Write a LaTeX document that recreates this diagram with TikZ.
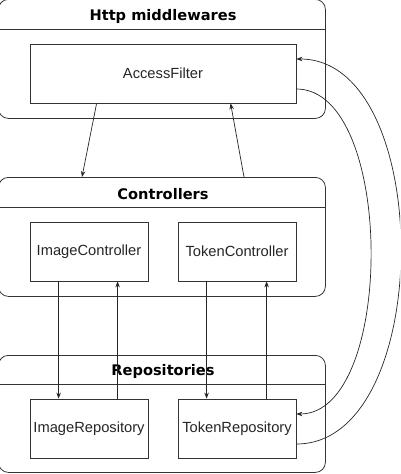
\documentclass[tikz,border=0pt]{standalone}
\usepackage{fontspec}
\setmainfont{Liberation Sans}
\newfontfamily\titlefont{DejaVu Sans}
\usetikzlibrary{arrows.meta,calc}
\begin{document}
\begin{tikzpicture}[x=1pt,y=-1pt,
  lane/.style={draw=black!80, line width=0.8pt, rounded corners=10pt, minimum width=327pt, inner sep=0pt, anchor=north west},
  lanetitle/.style={font=\titlefont\bfseries\fontsize{14.6}{16}\selectfont, text=black, inner sep=0pt},
  sep/.style={draw=black!80, line width=0.8pt},
  box/.style={draw=black!80, line width=0.8pt, fill=white, inner sep=0pt, font=\fontsize{14.7}{17}\selectfont, text=black!85},
  arr/.style={draw=black!85, line width=0.7pt, -{Stealth[length=6pt,width=4.5pt]}}
]
\useasboundingbox (0,0) rectangle (400,474);
\clip (0,0) rectangle (400,474);
% containers
\node[lane, minimum height=119pt] (mw) at (-2,-1) {};
\node[lane, minimum height=119pt] (ctl) at (-2,177) {};
\node[lane, minimum height=117pt] (rep) at (-2,355) {};
\coordinate (mwsep) at (0,29);
\coordinate (ctlsep) at (0,207);
\coordinate (repsep) at (0,384);
\draw[sep] (mw.west |- mwsep) -- (mw.east |- mwsep);
\draw[sep] (ctl.west |- ctlsep) -- (ctl.east |- ctlsep);
\draw[sep] (rep.west |- repsep) -- (rep.east |- repsep);
\node[lanetitle] (mwt) at (163,16) {Http middlewares};
\node[lanetitle] (ctlt) at (163,194) {Controllers};
\node[lanetitle] (rept) at (163,371) {Repositories};
% boxes
\node[box, minimum width=266pt, minimum height=59pt] (af) at (163,73.5) {AccessFilter};
\node[box, minimum width=118pt, minimum height=59pt] (ic) at (89,251.5) {ImageController};
\node[box, minimum width=118pt, minimum height=59pt] (tc) at (237,251.5) {TokenController};
\node[box, minimum width=118pt, minimum height=59pt] (ir) at (89,428.5) {ImageRepository};
\node[box, minimum width=118pt, minimum height=59pt] (tr) at (237,428.5) {TokenRepository};
% vertical connectors
\draw[arr] ([xshift=67pt]af.south west) -- ([xshift=84pt]ctl.north west);
\draw[arr] ([xshift=246pt]ctl.north west) -- ([xshift=201pt]af.south west);
\draw[arr] ([xshift=29pt]ic.south west) -- ([xshift=29pt]ir.north west);
\draw[arr] ([xshift=88pt]ir.north west) -- ([xshift=88pt]ic.south west);
\draw[arr] ([xshift=29pt]tc.south west) -- ([xshift=29pt]tr.north west);
\draw[arr] ([xshift=89pt]tr.north west) -- ([xshift=89pt]tc.south west);
% curved connectors
\draw[arr] ([yshift=-15.5pt]af.east) .. controls +(99,0) and +(99,0) .. ([yshift=14.5pt]tr.east);
\draw[arr] ([yshift=-15.5pt]tr.east) .. controls +(139,0) and +(139,0) .. ([yshift=14.5pt]af.east);
\end{tikzpicture}
\end{document}
